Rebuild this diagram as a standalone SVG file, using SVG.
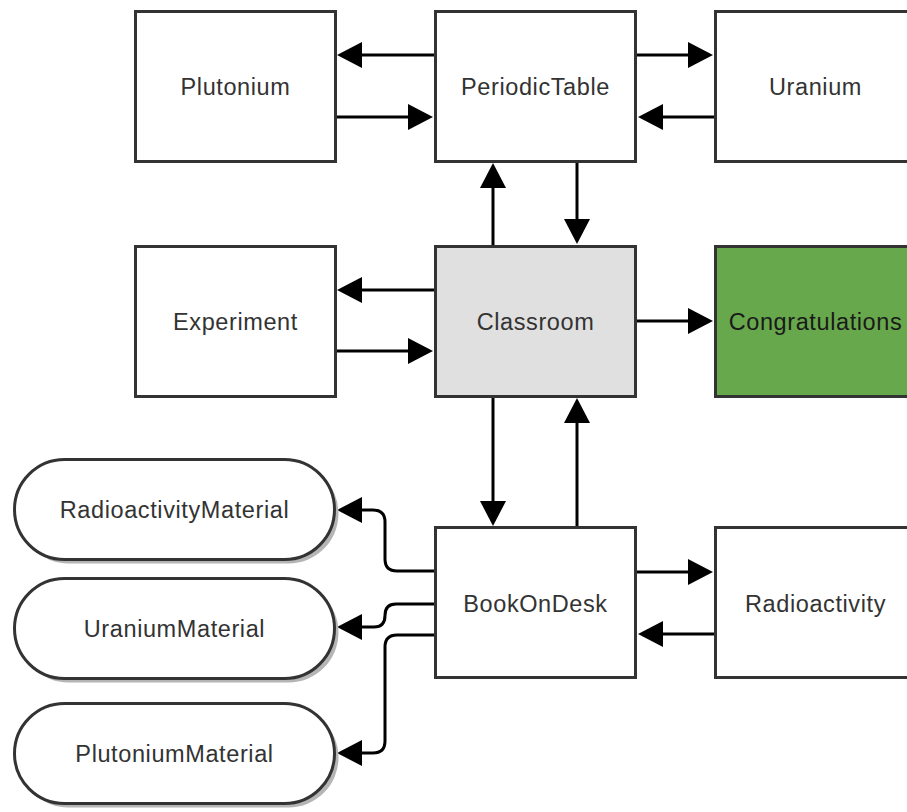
<svg xmlns="http://www.w3.org/2000/svg" width="907" height="812" viewBox="0 0 907 812">
  <style>
    .box { fill: #ffffff; stroke: #333333; stroke-width: 3; }
    .pill { fill: #ffffff; stroke: #333333; stroke-width: 3; }
    .shadow { fill: #b5b5b5; stroke: none; }
    .lbl { font-family: "Liberation Sans", Arial, Helvetica, sans-serif; font-size: 23.5px; letter-spacing: 0.6px; fill: #333333; text-anchor: middle; }
    .edge { fill: none; stroke: #000000; stroke-width: 3; marker-end: url(#arrow); }
  </style>
  <defs>
    <!-- filled block arrowhead; each path ends at the base, the head extends 25px forward -->
    <marker id="arrow" markerUnits="userSpaceOnUse" markerWidth="25" markerHeight="26" viewBox="0 0 25 26" refX="0" refY="13" orient="auto" overflow="visible">
      <path d="M0,0 L25,13 L0,26 Z" fill="#000000"/>
    </marker>
  </defs>

  <rect width="907" height="812" fill="#ffffff"/>

  <!-- connectors -->
  <g id="connectors">
    <!-- PeriodicTable row -->
    <path class="edge" d="M435,55 H362"/>
    <path class="edge" d="M335,117 H408"/>
    <path class="edge" d="M636,55 H688"/>
    <path class="edge" d="M715,117 H663"/>
    <!-- PeriodicTable / Classroom -->
    <path class="edge" d="M493,246 V188"/>
    <path class="edge" d="M577,161 V219"/>
    <!-- Classroom row -->
    <path class="edge" d="M435,290 H362"/>
    <path class="edge" d="M335,351 H408"/>
    <path class="edge" d="M636,321 H688"/>
    <!-- Classroom / BookOnDesk -->
    <path class="edge" d="M493,396 V501"/>
    <path class="edge" d="M577,527 V423"/>
    <!-- BookOnDesk / Radioactivity -->
    <path class="edge" d="M636,572 H688"/>
    <path class="edge" d="M715,634 H663"/>
    <!-- BookOnDesk to the material nodes -->
    <path class="edge" d="M435,571 H397 Q385,571 385,559 V522 Q385,510 373,510 H362"/>
    <path class="edge" d="M435,604 H396 Q385,604 385,615.5 Q385,627 374,627 H362"/>
    <path class="edge" d="M435,635 H397 Q385,635 385,647 V741 Q385,753 373,753 H362"/>
  </g>

  <g id="node-plutonium">
    <rect class="box" x="135.5" y="11.5" width="200" height="150"/>
    <text class="lbl" x="235.5" y="94.5">Plutonium</text>
  </g>
  <g id="node-periodictable">
    <rect class="box" x="435.5" y="11.5" width="200" height="150"/>
    <text class="lbl" x="535.5" y="94.5">PeriodicTable</text>
  </g>
  <g id="node-uranium">
    <rect class="box" x="715.5" y="11.5" width="200" height="150"/>
    <text class="lbl" x="815.5" y="94.5">Uranium</text>
  </g>

  <g id="node-experiment">
    <rect class="box" x="135.5" y="246.5" width="200" height="150"/>
    <text class="lbl" x="235.5" y="329.5">Experiment</text>
  </g>
  <g id="node-classroom">
    <rect class="box" x="435.5" y="246.5" width="200" height="150" style="fill:#e0e0e0"/>
    <text class="lbl" x="535.5" y="329.5">Classroom</text>
  </g>
  <g id="node-congratulations">
    <rect class="box" x="715.5" y="246.5" width="200" height="150" style="fill:#68a84c"/>
    <text class="lbl" x="815.5" y="329.5" style="fill:#1a1a1a">Congratulations</text>
  </g>

  <g id="node-bookondesk">
    <rect class="box" x="435.5" y="527.5" width="200" height="150"/>
    <text class="lbl" x="535.5" y="611.5">BookOnDesk</text>
  </g>
  <g id="node-radioactivity">
    <rect class="box" x="715.5" y="527.5" width="200" height="150"/>
    <text class="lbl" x="815.5" y="611.5">Radioactivity</text>
  </g>

  <g id="node-radioactivitymaterial">
    <rect class="shadow" x="18.5" y="463.5" width="320" height="100" rx="50" ry="50"/>
    <rect class="pill" x="14.5" y="459.5" width="320" height="100" rx="50" ry="50"/>
    <text class="lbl" x="174.5" y="518">RadioactivityMaterial</text>
  </g>
  <g id="node-uraniummaterial">
    <rect class="shadow" x="18.5" y="582.5" width="320" height="100" rx="50" ry="50"/>
    <rect class="pill" x="14.5" y="578.5" width="320" height="100" rx="50" ry="50"/>
    <text class="lbl" x="174.5" y="637">UraniumMaterial</text>
  </g>
  <g id="node-plutoniummaterial">
    <rect class="shadow" x="18.5" y="707.5" width="320" height="100" rx="50" ry="50"/>
    <rect class="pill" x="14.5" y="703.5" width="320" height="100" rx="50" ry="50"/>
    <text class="lbl" x="174.5" y="762">PlutoniumMaterial</text>
  </g>
</svg>
